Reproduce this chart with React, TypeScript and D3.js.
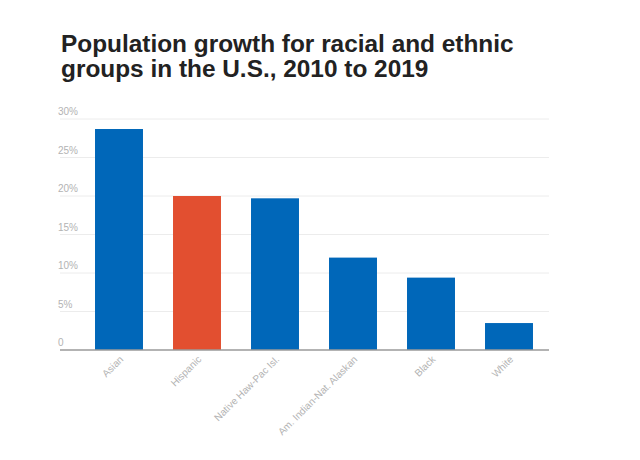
import * as d3 from 'd3';

const categories = ['Asian', 'Hispanic', 'Native Haw-Pac Isl.', 'Am. Indian-Nat. Alaskan', 'Black', 'White'];
const growth = [28.7, 20.0, 19.7, 12.0, 9.4, 3.5];
const highlighted = ['Hispanic'];
const yTicks = [0, 5, 10, 15, 20, 25, 30];
const titleLines = ['Population growth for racial and ethnic', 'groups in the U.S., 2010 to 2019'];

const width = 640;
const height = 460;
const margin = { top: 119, bottom: 110, left: 60, right: 91 };

export default function App() {
    const innerBottom = height - margin.bottom;

    const xScale = d3.scaleBand<string>()
        .domain(categories)
        .range([80, 548])
        .paddingInner(0.385)
        .paddingOuter(0.1925);

    const yScale = d3.scaleLinear()
        .domain([0, 30])
        .range([innerBottom, margin.top]);

    const font = '"Liberation Sans", Arial, sans-serif';

    return (
        <svg width={width} height={height} style={{ position: 'absolute', left: 0, top: 0, background: '#fff' }} fontFamily={font}>
            {/* Title */}
            {titleLines.map((t, i) => (
                <text key={t} x={61} y={51.5 + i * 25} fontSize={24.4} fontWeight="bold" fill="#222">{t}</text>
            ))}

            {/* Grid lines + y labels */}
            {yTicks.map(t => (
                <g key={t}>
                    {t > 0 && (
                        <line x1={margin.left} x2={width - margin.right} y1={yScale(t)} y2={yScale(t)} stroke="#ececec" strokeWidth={1} />
                    )}
                    <text x={58} y={yScale(t) - 4} fontSize={10} fill="#b3b3b3">{t === 0 ? '0' : `${t}%`}</text>
                </g>
            ))}

            {/* Bars */}
            {categories.map((c, i) => (
                <rect
                    key={c}
                    x={xScale(c)}
                    y={yScale(growth[i])}
                    width={xScale.bandwidth()}
                    height={innerBottom - yScale(growth[i])}
                    fill={highlighted.includes(c) ? '#e24f30' : '#0067b9'}
                />
            ))}

            {/* Baseline */}
            <line x1={margin.left} x2={width - margin.right} y1={innerBottom} y2={innerBottom} stroke="#9a9a9a" strokeWidth={1.5} />

            {/* X labels */}
            {categories.map(c => {
                const cx = (xScale(c) ?? 0) + xScale.bandwidth() / 2 + 5;
                const cy = innerBottom + 10;
                return (
                    <text key={c} x={cx} y={cy} fontSize={10} fill="#b3b3b3" textAnchor="end"
                        transform={`rotate(-45, ${cx}, ${cy})`}>{c}</text>
                );
            })}
        </svg>
    );
}
